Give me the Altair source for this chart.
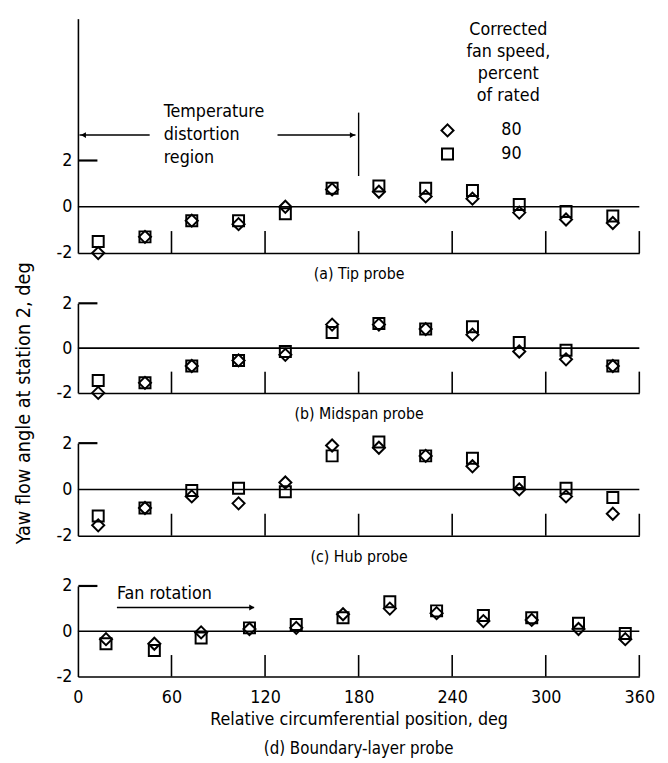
import altair as alt
import pandas as pd

FONT = "DejaVu Sans Condensed, Liberation Sans Narrow, Liberation Sans, sans-serif"

# ---- data ----
pos_abc = [13, 43, 73, 103, 133, 163, 193, 223, 253, 283, 313, 343]
pos_d = [18, 49, 79, 110, 140, 170, 200, 230, 260, 291, 321, 351]

tip_80 = [-2.0, -1.3, -0.6, -0.75, 0.0, 0.75, 0.65, 0.45, 0.35, -0.25, -0.55, -0.7]
tip_90 = [-1.5, -1.3, -0.6, -0.6, -0.3, 0.8, 0.9, 0.8, 0.7, 0.1, -0.2, -0.4]
mid_80 = [-2.0, -1.55, -0.8, -0.55, -0.3, 1.05, 1.05, 0.85, 0.6, -0.15, -0.5, -0.8]
mid_90 = [-1.45, -1.55, -0.8, -0.55, -0.15, 0.7, 1.1, 0.85, 0.95, 0.25, -0.1, -0.8]
hub_80 = [-1.55, -0.8, -0.3, -0.6, 0.3, 1.9, 1.8, 1.45, 1.0, 0.0, -0.3, -1.05]
hub_90 = [-1.15, -0.8, -0.05, 0.05, -0.1, 1.45, 2.05, 1.45, 1.35, 0.3, 0.05, -0.35]
bl_80 = [-0.35, -0.55, -0.05, 0.1, 0.15, 0.75, 1.0, 0.8, 0.45, 0.5, 0.1, -0.35]
bl_90 = [-0.55, -0.85, -0.3, 0.15, 0.3, 0.6, 1.3, 0.9, 0.7, 0.6, 0.35, -0.1]

x_tick_values = [0, 60, 120, 180, 240, 300, 360]
inner_ticks = [60, 120, 180, 240, 300, 360]
y_tick_values = [-2, 0, 2]

captions = ["(a) Tip probe", "(b) Midspan probe", "(c) Hub probe", "(d) Boundary-layer probe"]
x_title = "Relative circumferential position, deg"
y_title = "Yaw flow angle at station 2, deg"

legend_head = ["Corrected", "fan speed,", "percent", "of rated"]
legend_head_y = [7.65, 6.7, 5.75, 4.8]
legend_labels = ["80", "90"]
legend_y = [3.3, 2.28]
temp_text = ["Temperature", "distortion", "region"]
temp_text_y = [4.08, 3.1, 2.12]

W = 570


def make_panel(xs, v80, v90, ymax, height, xaxis, yaxis, extras=None):
    xscale = alt.Scale(domain=[0, 360], nice=False, zero=False)
    yscale = alt.Scale(domain=[-2, ymax], nice=False, zero=False)

    def X(v):
        if isinstance(v, str):
            return alt.X(v, type="quantitative", scale=xscale, axis=xaxis)
        return alt.XDatum(v, scale=xscale, axis=xaxis)

    def Y(v):
        if isinstance(v, str):
            return alt.Y(v, type="quantitative", scale=yscale, axis=yaxis)
        return alt.YDatum(v, scale=yscale, axis=yaxis)

    df = pd.DataFrame({"pos": xs, "v80": v80, "v90": v90})
    one = pd.DataFrame({"k": [0]})
    ticks = pd.DataFrame({"t": inner_ticks})

    layers = [
        alt.Chart(one).mark_rule(color="black", strokeWidth=1.6).encode(y=Y(0)),
        alt.Chart(ticks).mark_rule(color="black", strokeWidth=1.6).encode(
            x=X("t"), y=Y(-2), y2=alt.Y2Datum(-1.05)),
        alt.Chart(df).mark_point(shape="diamond", filled=False, color="black",
                                 strokeWidth=2, size=150, opacity=1).encode(
            x=X("pos"), y=Y("v80")),
        alt.Chart(df).mark_point(shape="square", filled=False, color="black",
                                 strokeWidth=2, size=125, opacity=1).encode(
            x=X("pos"), y=Y("v90")),
        alt.Chart(one).mark_rule(color="black", strokeWidth=2.2).encode(
            x=X(0.3), x2=alt.X2Datum(12.5), y=Y(2)),
    ]
    if extras:
        layers += extras(X, Y)
    return alt.layer(*layers).properties(width=W, height=height)


def axis_style(**kw):
    base = dict(domainColor="black", domainWidth=1.6, ticks=False, grid=False,
                labelColor="black", titleColor="black", labelFont=FONT,
                titleFont=FONT, titleFontWeight="normal")
    base.update(kw)
    return alt.Axis(**base)


def y_axis(title=None, **kw):
    if title is None:
        return axis_style(values=y_tick_values, labelExpr="'' + datum.value",
                          labelFontSize=18, labelPadding=6, title=None, **kw)
    return axis_style(values=y_tick_values, labelExpr="'' + datum.value",
                      labelFontSize=18, labelPadding=6, title=title, **kw)


def caption_axis(text):
    return axis_style(labels=False, title=text, titleFontSize=16, titlePadding=13)


def extras_a(X, Y):
    head = pd.DataFrame({"t": legend_head, "y": legend_head_y})
    labs = pd.DataFrame({"t": legend_labels, "y": legend_y})
    temp = pd.DataFrame({"t": temp_text, "y": temp_text_y})
    one = pd.DataFrame({"k": [0]})
    return [
        alt.Chart(head).mark_text(font=FONT, fontSize=18, color="black",
                                  align="center", baseline="middle").encode(
            x=X(276), y=Y("y"), text="t:N"),
        alt.Chart(labs).mark_text(font=FONT, fontSize=18, color="black",
                                  align="center", baseline="middle").encode(
            x=X(278), y=Y("y"), text="t:N"),
        alt.Chart(one).mark_point(shape="diamond", filled=False, color="black",
                                  strokeWidth=2, size=150, opacity=1).encode(
            x=X(237), y=Y(legend_y[0])),
        alt.Chart(one).mark_point(shape="square", filled=False, color="black",
                                  strokeWidth=2, size=125, opacity=1).encode(
            x=X(237), y=Y(legend_y[1])),
        alt.Chart(temp).mark_text(font=FONT, fontSize=18, color="black",
                                  align="left", baseline="middle").encode(
            x=X(55), y=Y("y"), text="t:N"),
        alt.Chart(one).mark_rule(color="black", strokeWidth=1.4).encode(
            x=X(1), x2=alt.X2Datum(46), y=Y(3.1)),
        alt.Chart(one).mark_rule(color="black", strokeWidth=1.4).encode(
            x=X(128), x2=alt.X2Datum(178), y=Y(3.1)),
        alt.Chart(one).mark_point(shape="triangle-left", filled=True, color="black",
                                  size=35, opacity=1).encode(x=X(3.5), y=Y(3.1)),
        alt.Chart(one).mark_point(shape="triangle-right", filled=True, color="black",
                                  size=35, opacity=1).encode(x=X(176), y=Y(3.1)),
        alt.Chart(one).mark_rule(color="black", strokeWidth=1.4).encode(
            x=X(180), y=Y(1.33), y2=alt.Y2Datum(4.07)),
    ]


def extras_d(X, Y):
    one = pd.DataFrame({"k": [0]})
    return [
        alt.Chart(one).mark_text(font=FONT, fontSize=18, color="black",
                                 align="left", baseline="middle",
                                 text="Fan rotation").encode(x=X(25), y=Y(1.65)),
        alt.Chart(one).mark_rule(color="black", strokeWidth=1.4).encode(
            x=X(25), x2=alt.X2Datum(113), y=Y(1.05)),
        alt.Chart(one).mark_point(shape="triangle-right", filled=True, color="black",
                                  size=35, opacity=1).encode(x=X(111.5), y=Y(1.05)),
    ]


pa = make_panel(pos_abc, tip_80, tip_90, 8.13, 238,
                caption_axis(captions[0]), y_axis(), extras_a)
pb = make_panel(pos_abc, mid_80, mid_90, 2, 91,
                caption_axis(captions[1]),
                y_axis(y_title, titleFontSize=20, titleAngle=-90,
                       titleBaseline="middle", titleAlign="center",
                       titleX=-55, titleY=101))
pc = make_panel(pos_abc, hub_80, hub_90, 2, 94,
                caption_axis(captions[2]), y_axis())
pd_ = make_panel(pos_d, bl_80, bl_90, 2, 92,
                 axis_style(values=x_tick_values, labelFontSize=18, labelPadding=12,
                            labelFlush=False, title=x_title, titleFontSize=18,
                            titlePadding=5),
                 y_axis(), extras_d).properties(
    title=alt.TitleParams(captions[3], orient="bottom", font=FONT, fontSize=17,
                          fontWeight="normal", color="black", offset=13,
                          anchor="middle"))

chart = alt.vconcat(pa, pb, pc, pd_, spacing=51, bounds="flush").configure_view(
    stroke=None).properties(background="white")

chart.save("out.html", embed_options={"renderer": "svg", "actions": False})
